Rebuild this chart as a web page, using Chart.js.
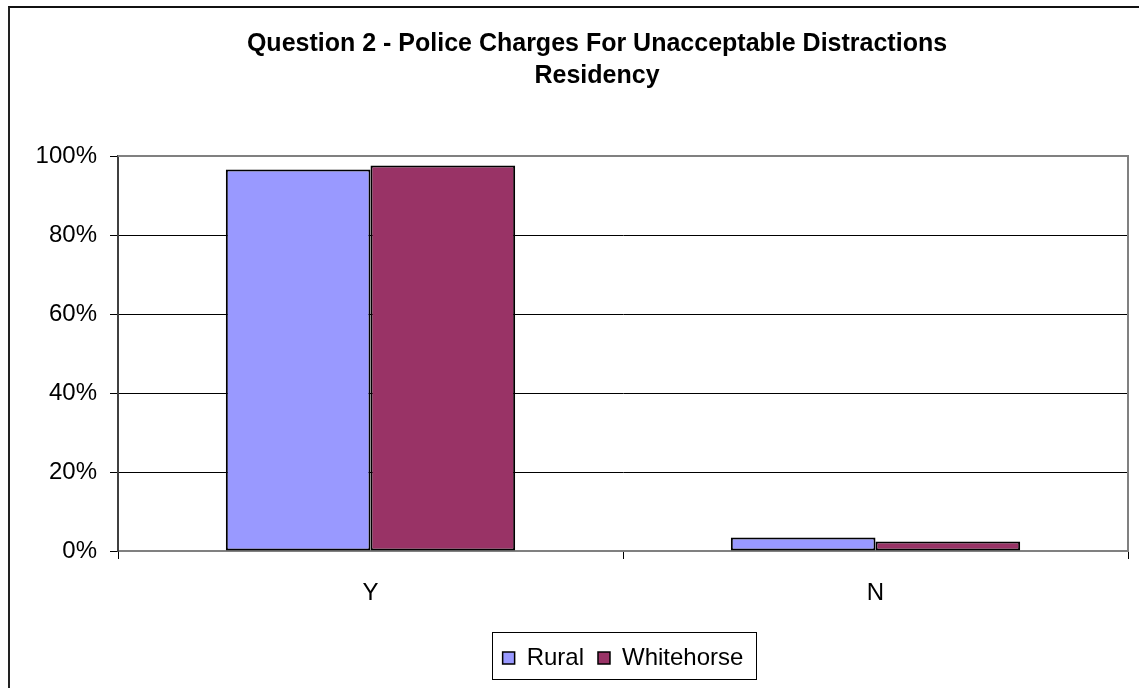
<!DOCTYPE html>
<html>
<head>
<meta charset="utf-8">
<title>Question 2 - Police Charges For Unacceptable Distractions</title>
<script src="https://cdn.jsdelivr.net/npm/chart.js@4.4.1/dist/chart.umd.min.js"></script>
<style>
  html, body { margin: 0; padding: 0; background: #fff; overflow: hidden; }
  body { width: 1139px; height: 688px; position: relative; }
  #frame {
    position: absolute; left: 8px; top: 6px; width: 1400px; height: 900px;
    border-left: 2px solid #222; border-top: 2px solid #111; box-sizing: border-box;
  }
  #wrap { position: absolute; left: 0; top: 0; width: 1139px; height: 688px; }
</style>
</head>
<body>
<div id="frame"></div>
<div id="wrap"><canvas id="chart" width="1139" height="688"></canvas></div>
<script>
// Answers by residency
const categories = ['Y', 'N'];
const rural = [96.6, 3.4];
const whitehorse = [97.6, 2.4];
const yTicks = [0, 20, 40, 60, 80, 100];
const titleLines = ['Question 2 - Police Charges For Unacceptable Distractions', 'Residency'];

const FONT = '"Liberation Sans", Arial, sans-serif';

// Two-line heading centred over the whole (wider) chart frame
const heading = {
  id: 'heading',
  afterDraw(chart) {
    const { ctx } = chart;
    ctx.save();
    ctx.fillStyle = '#000';
    ctx.font = 'bold 25px ' + FONT;
    ctx.textAlign = 'center';
    ctx.textBaseline = 'alphabetic';
    const cx = 597;
    titleLines.forEach((line, i) => ctx.fillText(line, cx, 51 + i * 32));
    ctx.restore();
  }
};

// Grey frame on the top and right of the plot area
const plotFrame = {
  id: 'plotFrame',
  afterDatasetsDraw(chart) {
    const { ctx, chartArea: a } = chart;
    ctx.save();
    ctx.strokeStyle = '#808080';
    ctx.lineWidth = 2;
    ctx.beginPath();
    ctx.moveTo(a.left, a.top);
    ctx.lineTo(a.right, a.top);
    ctx.lineTo(a.right, a.bottom);
    ctx.stroke();
    ctx.restore();
  }
};

// Box drawn around the legend entries
const legendFrame = {
  id: 'legendFrame',
  afterDraw(chart) {
    const lg = chart.legend;
    if (!lg || !lg.legendHitBoxes || !lg.legendHitBoxes.length) return;
    const hb = lg.legendHitBoxes;
    const first = hb[0], last = hb[hb.length - 1];
    const x0 = first.left - 11;
    const x1 = last.left + last.width + 12;
    const y0 = lg.top;
    const y1 = lg.top + lg.height - 1;
    const { ctx } = chart;
    ctx.save();
    ctx.strokeStyle = '#000';
    ctx.lineWidth = 1;
    ctx.strokeRect(Math.round(x0) + 0.5, Math.round(y0) + 0.5, Math.round(x1 - x0), Math.round(y1 - y0));
    ctx.restore();
  }
};

new Chart(document.getElementById('chart'), {
  type: 'bar',
  data: {
    labels: categories,
    datasets: [
      {
        label: 'Rural', data: rural,
        backgroundColor: '#9999FF', borderColor: '#000', borderWidth: 2, borderSkipped: false
      },
      {
        label: 'Whitehorse', data: whitehorse,
        backgroundColor: '#993366', borderColor: '#000', borderWidth: 2, borderSkipped: false
      }
    ]
  },
  options: {
    responsive: false,
    animation: false,
    devicePixelRatio: 1,
    layout: { padding: { left: 0, right: 11, top: 156, bottom: 8 } },
    datasets: { bar: { categoryPercentage: 0.573, barPercentage: 1.0 } },
    plugins: {
      title: { display: false },
      legend: {
        display: true,
        position: 'bottom',
        fullSize: false,
        labels: {
          color: '#000',
          font: { family: FONT, size: 24 },
          boxWidth: 12, boxHeight: 12,
          padding: 14,
          generateLabels(chart) {
            return chart.data.datasets.map((ds, i) => ({
              text: ds.label,
              fillStyle: ds.backgroundColor,
              strokeStyle: '#000',
              lineWidth: 1.5,
              datasetIndex: i,
              fontColor: '#000'
            }));
          }
        }
      },
      tooltip: { enabled: false }
    },
    scales: {
      x: {
        type: 'category',
        afterFit(scale) { scale.height = 81; },
        grid: {
          offset: true, drawOnChartArea: false, drawTicks: true,
          tickLength: 8, tickColor: '#000', tickWidth: 1
        },
        border: { display: true, color: '#808080', width: 2 },
        ticks: { color: '#000', font: { family: FONT, size: 24 }, padding: 20 }
      },
      y: {
        min: 0, max: 100,
        afterFit(scale) { scale.width = 118; },
        afterBuildTicks(scale) { scale.ticks = yTicks.map(v => ({ value: v })); },
        grid: {
          color: (c) => (c.tick && c.tick.value > 0 && c.tick.value < 100) ? '#000' : 'rgba(0,0,0,0)',
          lineWidth: 1,
          drawTicks: true, tickLength: 8, tickColor: '#000', tickWidth: 1
        },
        border: { display: true, color: '#404040', width: 2 },
        ticks: {
          color: '#000', font: { family: FONT, size: 24 }, padding: 13,
          callback: (v) => v + '%'
        }
      }
    }
  },
  plugins: [plotFrame, legendFrame, heading]
});
</script>
</body>
</html>
